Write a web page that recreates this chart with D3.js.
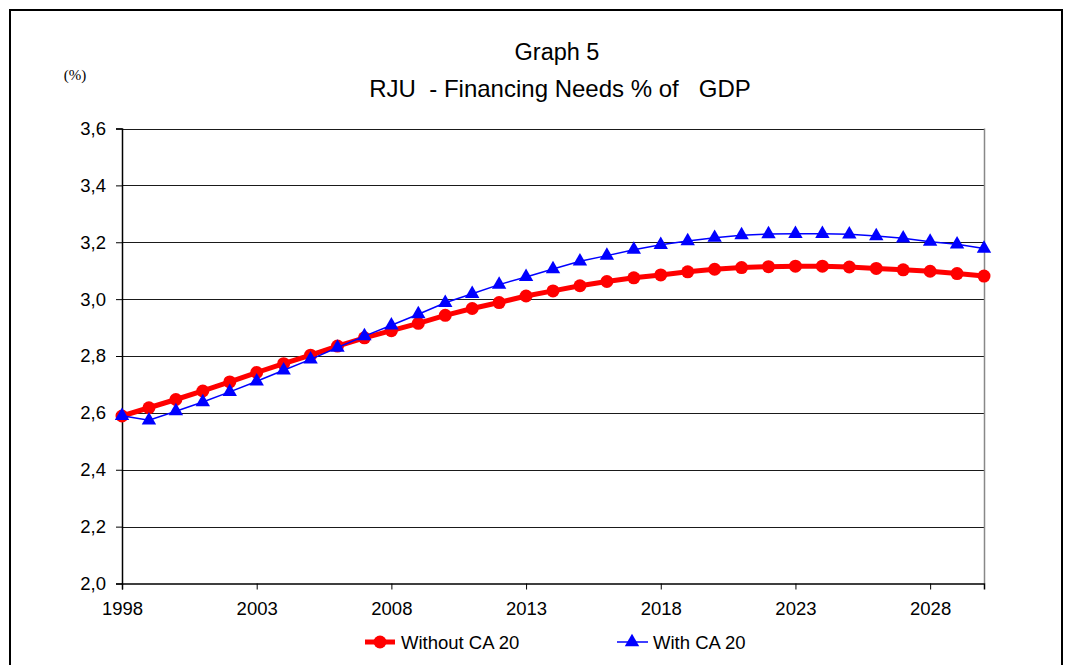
<!DOCTYPE html>
<html>
<head>
<meta charset="utf-8">
<script src="https://cdn.jsdelivr.net/npm/d3@7"></script>
<style>
  html, body { margin: 0; padding: 0; background: #fff; }
  svg { display: block; }
  text { font-family: "Liberation Sans", Arial, sans-serif; fill: #000; }
</style>
</head>
<body>
<svg id="chart" width="1065" height="665"></svg>
<script>
const years = d3.range(1998, 2031);
const withoutCA = [2.589, 2.618, 2.647, 2.677, 2.709, 2.742, 2.773, 2.803, 2.835, 2.864,
  2.889, 2.915, 2.943, 2.967, 2.988, 3.011, 3.029, 3.047, 3.062, 3.075,
  3.085, 3.096, 3.105, 3.111, 3.114, 3.116, 3.116, 3.113, 3.108, 3.103,
  3.098, 3.090, 3.081];
const withCA = [2.590, 2.574, 2.606, 2.638, 2.674, 2.711, 2.750, 2.788, 2.830, 2.870,
  2.908, 2.947, 2.987, 3.019, 3.051, 3.078, 3.106, 3.133, 3.153, 3.174,
  3.191, 3.204, 3.216, 3.225, 3.229, 3.230, 3.230, 3.228, 3.222, 3.214,
  3.202, 3.193, 3.178];
const xTicks = [1998, 2003, 2008, 2013, 2018, 2023, 2028];
const yTicks = [2.0, 2.2, 2.4, 2.6, 2.8, 3.0, 3.2, 3.4, 3.6];
const seriesNames = ["Without CA 20", "With CA 20"];
const titleText = "Graph 5";
const subtitleText = "RJU  - Financing Needs % of   GDP";
const unitText = "(%)";

const svg = d3.select("#chart");
const L = 122, R = 984, T = 128.5, B = 583.5;
const FONT = '"Liberation Sans", Arial, sans-serif';

// outer frame
svg.append("rect").attr("x", 10).attr("y", 10).attr("width", 1052).attr("height", 700)
  .attr("fill", "none").attr("stroke", "#000").attr("stroke-width", 2);

const x = d3.scaleLinear().domain([1998, 2030]).range([L, R]);
const y = d3.scaleLinear().domain([2.0, 3.6]).range([B, T]);

// gridlines
svg.append("g").selectAll("line").data(yTicks.filter(v => v > 2.0)).join("line")
  .attr("x1", L).attr("x2", R)
  .attr("y1", d => Math.round(y(d)) + 0.5).attr("y2", d => Math.round(y(d)) + 0.5)
  .attr("stroke", "#1a1a1a").attr("stroke-width", 1);

// plot right border
svg.append("line").attr("x1", R + 0.5).attr("x2", R + 0.5).attr("y1", T).attr("y2", B)
  .attr("stroke", "#888").attr("stroke-width", 1.5);

// y axis
const yAxis = d3.axisLeft(y).tickValues(yTicks).tickSize(6).tickPadding(10)
  .tickFormat(d => d3.format(".1f")(d).replace(".", ","));
const gy = svg.append("g").attr("transform", `translate(${L},0)`).call(yAxis);
gy.select(".domain").attr("stroke", "#000").attr("stroke-width", 1.5);
gy.selectAll(".tick line").attr("stroke", "#000");
gy.selectAll("text").style("font-size", "18.5px").style("font-family", FONT);

// x axis
const xAxis = d3.axisBottom(x).tickValues(xTicks).tickSize(6).tickPadding(12)
  .tickFormat(d3.format("d"));
const gx = svg.append("g").attr("transform", `translate(0,${B})`).call(xAxis);
gx.select(".domain").attr("stroke", "#000").attr("stroke-width", 1.5);
gx.selectAll(".tick line").attr("stroke", "#000");
gx.selectAll("text").style("font-size", "18.5px").style("font-family", FONT);

// lines
const redData = years.map((yr, i) => ({ yr, v: withoutCA[i] }));
const blueData = years.map((yr, i) => ({ yr, v: withCA[i] }));
const line = d3.line().x(d => x(d.yr)).y(d => y(d.v));

svg.append("path").datum(redData).attr("d", line)
  .attr("fill", "none").attr("stroke", "#ff0000").attr("stroke-width", 5).attr("stroke-linejoin", "round");
svg.append("g").selectAll("circle").data(redData).join("circle")
  .attr("cx", d => x(d.yr)).attr("cy", d => y(d.v)).attr("r", 6.5).attr("fill", "#ff0000");

svg.append("path").datum(blueData).attr("d", line)
  .attr("fill", "none").attr("stroke", "#0000ff").attr("stroke-width", 1.5);
const tri = d3.symbol().type(d3.symbolTriangle).size(90);
svg.append("g").selectAll("path").data(blueData).join("path")
  .attr("d", tri).attr("transform", d => `translate(${x(d.yr)},${y(d.v)})`).attr("fill", "#0000ff");

// titles
svg.append("text").attr("x", 557).attr("y", 60).attr("text-anchor", "middle")
  .style("font-size", "23.5px").text(titleText);
svg.append("text").attr("x", 560).attr("y", 97).attr("text-anchor", "middle")
  .style("font-size", "24px").style("white-space", "pre").attr("xml:space", "preserve").text(subtitleText);
svg.append("text").attr("x", 75).attr("y", 80).attr("text-anchor", "middle")
  .style("font-size", "15px").style("font-family", '"Liberation Serif", "Times New Roman", serif').text(unitText);

// legend
const lg = svg.append("g");
lg.append("line").attr("x1", 365).attr("x2", 395).attr("y1", 642).attr("y2", 642)
  .attr("stroke", "#ff0000").attr("stroke-width", 5);
lg.append("circle").attr("cx", 380).attr("cy", 642).attr("r", 6.5).attr("fill", "#ff0000");
lg.append("text").attr("x", 401).attr("y", 648.5).style("font-size", "18.5px").text(seriesNames[0]);
lg.append("line").attr("x1", 617).attr("x2", 648).attr("y1", 642).attr("y2", 642)
  .attr("stroke", "#0000ff").attr("stroke-width", 1.5);
lg.append("path").attr("d", tri).attr("transform", "translate(632,642)").attr("fill", "#0000ff");
lg.append("text").attr("x", 653).attr("y", 648.5).style("font-size", "18.5px").text(seriesNames[1]);
</script>
</body>
</html>
